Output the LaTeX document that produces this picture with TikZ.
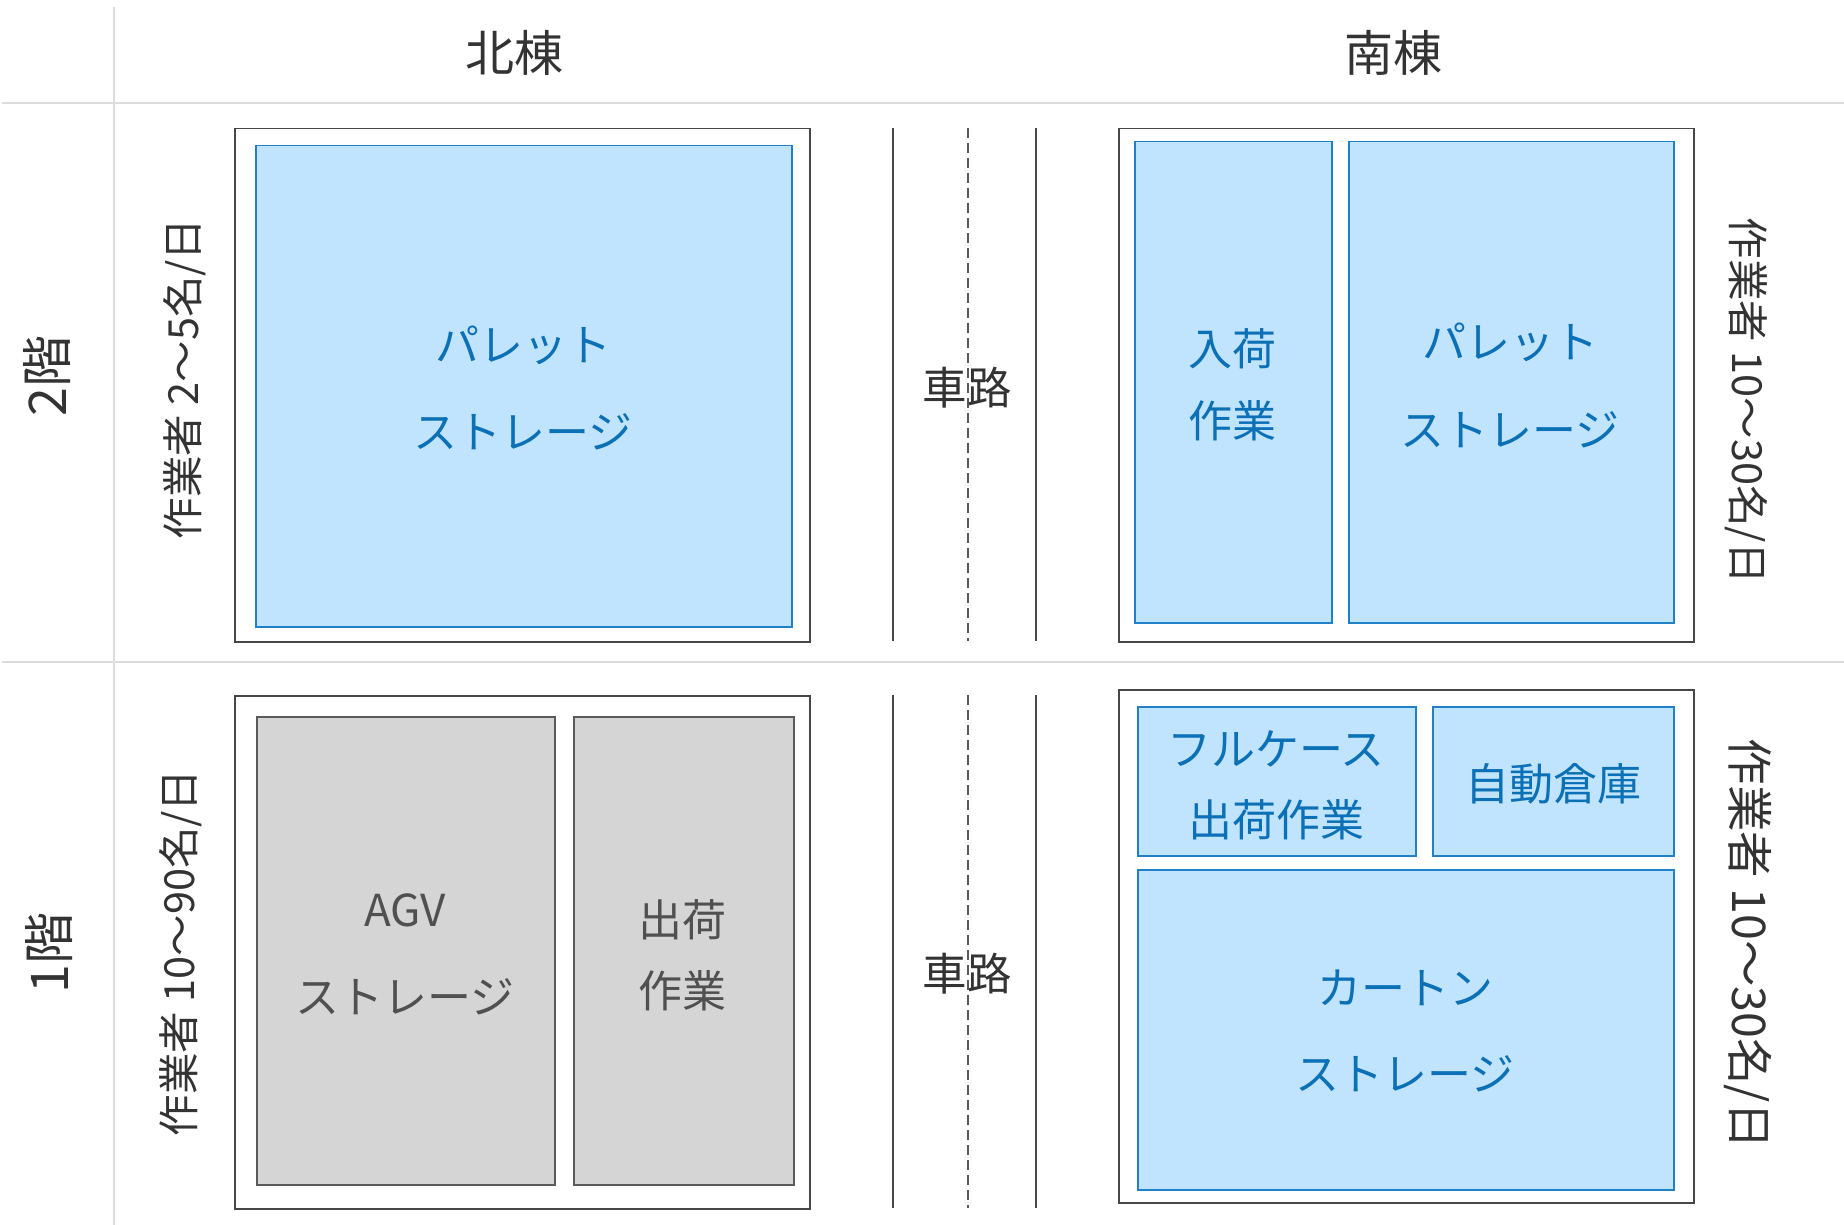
\documentclass[tikz,border=0pt]{standalone}
\usepackage{fontspec}
\setmainfont{Noto Sans CJK JP}
\definecolor{bfill}{HTML}{C0E4FD}
\definecolor{bline}{HTML}{2080C8}
\definecolor{btext}{HTML}{0B70B5}
\definecolor{gfill}{HTML}{D5D5D5}
\definecolor{gline}{HTML}{5A5A5A}
\definecolor{gtext}{HTML}{505050}
\definecolor{dtext}{HTML}{333333}
\definecolor{grid}{HTML}{DCDCDC}
\tikzset{
  outerbox/.style={draw=dtext!90, line width=1.5pt, fill=white, anchor=north west, inner sep=0pt},
  bluebox/.style={draw=bline, line width=1.5pt, fill=bfill, anchor=north west, inner sep=0pt},
  graybox/.style={draw=gline, line width=1.5pt, fill=gfill, anchor=north west, inner sep=0pt},
  btxt/.style={text=btext, align=center, inner sep=0pt},
  gtxt/.style={text=gtext, align=center, inner sep=0pt},
  head/.style={text=dtext, font=\fontsize{49}{53}\selectfont, inner sep=0pt},
  floorlbl/.style={text=dtext, font=\fontsize{52}{56}\selectfont, inner sep=0pt},
  side/.style={text=dtext, font=\fontsize{41.5}{45}\selectfont, inner sep=0pt},
  sidebig/.style={text=dtext, font=\fontsize{46.5}{50}\selectfont, inner sep=0pt},
  roadlbl/.style={text=dtext, font=\fontsize{44.5}{48}\selectfont, inner sep=0pt},
  road/.style={draw=dtext!90, line width=1.5pt},
  roaddash/.style={draw=gline, line width=1.3pt, dash pattern=on 10pt off 5pt},
  gridline/.style={draw=grid, line width=2pt},
}
\begin{document}
\begin{tikzpicture}[x=1pt,y=1pt]
\useasboundingbox (0,0) rectangle (1844,-1225);
% grid
\coordinate (gv1) at (114,-7);
\coordinate (gv2) at (114,-1225);
\coordinate (gh1a) at (2,-103.5);
\coordinate (gh1b) at (1844,-103.5);
\coordinate (gh2a) at (2,-662);
\coordinate (gh2b) at (1844,-662);
\draw[gridline] (gv1) -- (gv2);
\draw[gridline] (gh1a) -- (gh1b);
\draw[gridline] (gh2a) -- (gh2b);
% headers
\node[head] (hn) at (514,-53) {北棟};
\node[head] (hs) at (1393,-53) {南棟};
\node[floorlbl, rotate=90] (f2) at (47,-376) {2階};
\node[floorlbl, rotate=90] (f1) at (49,-953) {1階};
% side labels
\node[side, rotate=90] (l2) at (185,-379) {作業者 2～5名/日};
\node[side, rotate=-90] (r2) at (1746,-401) {作業者 10～30名/日};
\node[side, rotate=90] (l1) at (181,-953) {作業者 10～90名/日};
\node[sidebig, rotate=-90] (r1) at (1748,-944) {作業者 10～30名/日};
% ===== 2F north
\node[outerbox, minimum width=575pt, minimum height=513pt] (n2o) at (234,-128) {};
\node[bluebox, minimum width=536pt, minimum height=481pt] (n2b) at (255,-145) {};
\node[btxt, font=\fontsize{44}{87}\selectfont] (n2t) at (523,-388) {パレット\\ストレージ};
% ===== 2F road
\coordinate (r2a1) at (893,-128); \coordinate (r2a2) at (893,-641);
\coordinate (r2b1) at (968,-128); \coordinate (r2b2) at (968,-641);
\coordinate (r2c1) at (1036,-128); \coordinate (r2c2) at (1036,-641);
\draw[road] (r2a1) -- (r2a2);
\draw[roaddash] (r2b1) -- (r2b2);
\draw[road] (r2c1) -- (r2c2);
\node[roadlbl] (road2) at (967,-388) {車路};
% ===== 2F south
\node[outerbox, minimum width=575pt, minimum height=513pt] (s2o) at (1118,-128) {};
\node[bluebox, minimum width=197pt, minimum height=481pt] (s2a) at (1134,-141) {};
\node[bluebox, minimum width=325pt, minimum height=481pt] (s2b) at (1348,-141) {};
\node[btxt, font=\fontsize{44}{72}\selectfont] (s2at) at (1232,-385) {入荷\\作業};
\node[btxt, font=\fontsize{44}{88}\selectfont] (s2bt) at (1510,-385) {パレット\\ストレージ};
% ===== 1F north
\node[outerbox, minimum width=575pt, minimum height=513pt] (n1o) at (234,-695) {};
\node[graybox, minimum width=298pt, minimum height=468pt] (n1a) at (256,-716) {};
\node[graybox, minimum width=220pt, minimum height=468pt] (n1b) at (573,-716) {};
\node[gtxt, font=\fontsize{44}{87}\selectfont] (n1at) at (405,-954) {AGV\\ストレージ};
\node[gtxt, font=\fontsize{44}{71}\selectfont] (n1bt) at (682,-955) {出荷\\作業};
% ===== 1F road
\coordinate (r1a1) at (893,-695); \coordinate (r1a2) at (893,-1208);
\coordinate (r1b1) at (968,-695); \coordinate (r1b2) at (968,-1208);
\coordinate (r1c1) at (1036,-695); \coordinate (r1c2) at (1036,-1208);
\draw[road] (r1a1) -- (r1a2);
\draw[roaddash] (r1b1) -- (r1b2);
\draw[road] (r1c1) -- (r1c2);
\node[roadlbl] (road1) at (967,-974) {車路};
% ===== 1F south
\node[outerbox, minimum width=575pt, minimum height=513pt] (s1o) at (1118,-689) {};
\node[bluebox, minimum width=278pt, minimum height=149pt] (s1a) at (1137,-706) {};
\node[bluebox, minimum width=241pt, minimum height=149pt] (s1b) at (1432,-706) {};
\node[bluebox, minimum width=536pt, minimum height=320pt] (s1c) at (1137,-869) {};
\node[btxt, font=\fontsize{44}{71}\selectfont] (s1at) at (1276,-785) {フルケース\\出荷作業};
\node[btxt, font=\fontsize{44}{48}\selectfont] (s1bt) at (1553,-784) {自動倉庫};
\node[btxt, font=\fontsize{44}{86}\selectfont] (s1ct) at (1405,-1031) {カートン\\ストレージ};
\end{tikzpicture}
\end{document}
